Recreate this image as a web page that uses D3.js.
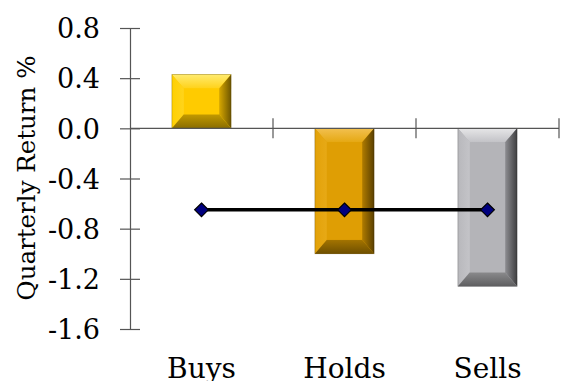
<!DOCTYPE html>
<html>
<head>
<meta charset="utf-8">
<script src="https://cdn.jsdelivr.net/npm/d3@7"></script>
<style>
  html, body { margin: 0; padding: 0; background: #fff; }
  svg { display: block; }
  text { font-family: "DejaVu Serif", serif; fill: #000; }
</style>
</head>
<body>
<svg id="chart" width="561" height="381"></svg>
<script>
// Quarterly return by recommendation type
const categories = ["Buys", "Holds", "Sells"];
const barValues = [0.43, -1.0, -1.26];
const lineValues = [-0.65, -0.65, -0.65];
const yTicks = [0.8, 0.4, 0.0, -0.4, -0.8, -1.2, -1.6];
const yLabel = "Quarterly Return %";

// Palette per bar: main face, top, left, right, bottom bevel colours
const palettes = [
  { face: "#FFCB00", top: ["#FFEB70", "#FFD21A"], left: ["#FFD000", "#FFD41C"], right: ["#D8A800", "#6E5600"], bottom: ["#C29A00", "#8A6D00"] },
  { face: "#DF9E04", top: ["#F2C050", "#E5A812"], left: ["#E3A208", "#E7A916"], right: ["#B07C00", "#5A3F00"], bottom: ["#A47400", "#6E4F00"] },
  { face: "#B4B4B8", top: ["#E6E6E8", "#C2C2C6"], left: ["#B8B8BC", "#C4C4C8"], right: ["#8E8E92", "#3E3E40"], bottom: ["#8A8A8C", "#5E5E60"] }
];

const svg = d3.select("#chart");
const plot = { left: 130, right: 559, top: 28, bottom: 329 };

const x = d3.scaleBand().domain(categories).range([plot.left, plot.right]).padding(0);
const y = d3.scaleLinear().domain([-1.6, 0.8]).range([plot.bottom, plot.top]);

const defs = svg.append("defs");

// Y axis with crossing ticks
const yAxis = svg.append("g")
  .attr("transform", `translate(${plot.left},0)`)
  .call(d3.axisLeft(y).tickValues(yTicks).tickFormat(d3.format(".1f")).tickSize(0).tickPadding(30));
yAxis.select(".domain").attr("stroke", "#555").attr("stroke-width", 1.2);
yAxis.selectAll(".tick line").attr("x1", -10).attr("x2", 10).attr("stroke", "#555").attr("stroke-width", 1.2);
yAxis.selectAll(".tick text")
  .attr("font-size", 27).attr("font-family", "DejaVu Serif, serif").attr("fill", "#000")
  .attr("dy", "0.36em")
  .text(d => d3.format(".1f")(d).replace("−", "-"));

// Bevelled bars
const bevelX = 12, bevelY = 14;
const barW = x.bandwidth() * 0.414;

categories.forEach((c, i) => {
  const v = barValues[i];
  const cx = x(c) + x.bandwidth() / 2;
  const x0 = cx - barW / 2, x1 = cx + barW / 2;
  const y0 = Math.min(y(v), y(0)), y1 = Math.max(y(v), y(0));
  const p = palettes[i];
  const ix0 = x0 + bevelX, ix1 = x1 - bevelX, iy0 = y0 + bevelY, iy1 = y1 - bevelY;

  const grad = (id, stops, vertical) => {
    const g = defs.append("linearGradient").attr("id", id)
      .attr("x1", 0).attr("y1", 0).attr("x2", vertical ? 0 : 1).attr("y2", vertical ? 1 : 0);
    g.append("stop").attr("offset", "0%").attr("stop-color", stops[0]);
    g.append("stop").attr("offset", "100%").attr("stop-color", stops[1]);
    return `url(#${id})`;
  };

  const g = svg.append("g");
  g.append("rect").attr("x", x0).attr("y", y0).attr("width", x1 - x0).attr("height", y1 - y0).attr("fill", p.face);
  const poly = pts => pts.map(q => q.join(",")).join(" ");
  g.append("polygon").attr("points", poly([[x0, y0], [x1, y0], [ix1, iy0], [ix0, iy0]]))
    .attr("fill", grad(`top${i}`, p.top, true));
  g.append("polygon").attr("points", poly([[x0, y0], [ix0, iy0], [ix0, iy1], [x0, y1]]))
    .attr("fill", grad(`left${i}`, p.left, false));
  g.append("polygon").attr("points", poly([[x1, y0], [x1, y1], [ix1, iy1], [ix1, iy0]]))
    .attr("fill", grad(`right${i}`, p.right, false));
  g.append("polygon").attr("points", poly([[x0, y1], [ix0, iy1], [ix1, iy1], [x1, y1]]))
    .attr("fill", grad(`bottom${i}`, p.bottom, true));
  g.append("rect").attr("x", ix0).attr("y", iy0).attr("width", ix1 - ix0).attr("height", Math.max(0, iy1 - iy0)).attr("fill", p.face);
  g.append("rect").attr("x", x0).attr("y", y0).attr("width", x1 - x0).attr("height", y1 - y0)
    .attr("fill", "none").attr("stroke", "rgba(0,0,0,0.25)").attr("stroke-width", 0.8);
});

// Horizontal category axis at zero with crossing ticks at band edges
svg.append("line")
  .attr("x1", plot.left).attr("x2", plot.right).attr("y1", y(0)).attr("y2", y(0))
  .attr("stroke", "#555").attr("stroke-width", 1.2);
const edges = categories.map(c => x(c) + x.bandwidth());
svg.selectAll(".xtick").data(edges).join("line").attr("class", "xtick")
  .attr("x1", d => d).attr("x2", d => d)
  .attr("y1", y(0) - 10).attr("y2", y(0) + 10)
  .attr("stroke", "#555").attr("stroke-width", 1.2);

// Category labels along the bottom
svg.selectAll(".xlabel").data(categories).join("text").attr("class", "xlabel")
  .attr("x", d => x(d) + x.bandwidth() / 2)
  .attr("y", 378)
  .attr("text-anchor", "middle")
  .attr("font-size", 28)
  .text(d => d);

// Average line with diamond markers
const line = d3.line().x((d, i) => x(categories[i]) + x.bandwidth() / 2).y(d => y(d));
svg.append("path").datum(lineValues).attr("d", line)
  .attr("fill", "none").attr("stroke", "#000").attr("stroke-width", 3.5);
svg.selectAll(".marker").data(lineValues).join("path").attr("class", "marker")
  .attr("transform", (d, i) => `translate(${x(categories[i]) + x.bandwidth() / 2},${y(d)})`)
  .attr("d", d3.symbol(d3.symbolDiamond2, 120)())
  .attr("fill", "#00007F").attr("stroke", "#000").attr("stroke-width", 1.2);

// Y axis title
svg.append("text")
  .attr("transform", `translate(35,178) rotate(-90)`)
  .attr("text-anchor", "middle")
  .attr("font-size", 24.5)
  .text(yLabel);
</script>
</body>
</html>
